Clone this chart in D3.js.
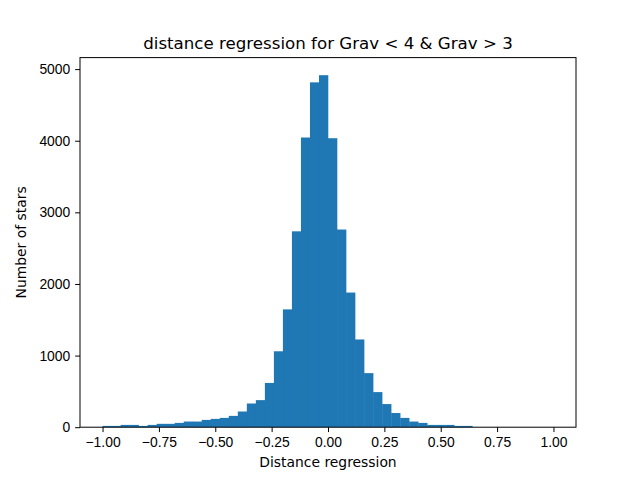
<!DOCTYPE html>
<html>
<head>
<meta charset="utf-8">
<script src="https://cdn.jsdelivr.net/npm/d3@7"></script>
<style>
  body { margin: 0; background: #fff; }
  svg { font-family: "DejaVu Sans", sans-serif; }
  .tick text { font-size: 13.89px; fill: #000; }
  .tick line { stroke: #000; stroke-width: 1; }
</style>
</head>
<body>
<script>
// histogram bin edges (50 bins of width 0.04)
var BIN_EDGES = [
  -1.00, -0.96, -0.92, -0.88, -0.84, -0.80, -0.76, -0.72, -0.68, -0.64,
  -0.60, -0.56, -0.52, -0.48, -0.44, -0.40, -0.36, -0.32, -0.28, -0.24,
  -0.20, -0.16, -0.12, -0.08, -0.04, 0.00, 0.04, 0.08, 0.12, 0.16,
  0.20, 0.24, 0.28, 0.32, 0.36, 0.40, 0.44, 0.48, 0.52, 0.56,
  0.60, 0.64, 0.68, 0.72, 0.76, 0.80, 0.84, 0.88, 0.92, 0.96, 1.00
];

// number of stars per bin
var COUNTS = [
  18, 18, 32, 32, 18, 32, 47, 47, 60, 79,
  79, 102, 116, 130, 158, 219, 331, 378, 618, 1060,
  1645, 2735, 4045, 4815, 4915, 4035, 2760, 1880, 1225, 755,
  490, 323, 198, 130, 79, 60, 32, 32, 32, 18,
  18, 0, 0, 0, 0, 0, 0, 0, 0, 0
];

var X_TICKS = [-1.00, -0.75, -0.50, -0.25, 0.00, 0.25, 0.50, 0.75, 1.00];
var Y_TICKS = [0, 1000, 2000, 3000, 4000, 5000];

var TITLE = 'distance regression for Grav < 4 & Grav > 3';
var X_LABEL = 'Distance regression';
var Y_LABEL = 'Number of stars';

var WIDTH = 640, HEIGHT = 480;
var margin = {left: 80, right: 64, top: 57.6, bottom: 52.8};
var plotW = WIDTH - margin.left - margin.right;
var plotH = HEIGHT - margin.top - margin.bottom;
var TICK_LEN = 4.86;

var bins = COUNTS.map(function(c, i) {
  return {x0: BIN_EDGES[i], x1: BIN_EDGES[i + 1], count: c};
});

var xPad = (BIN_EDGES[BIN_EDGES.length - 1] - BIN_EDGES[0]) * 0.05;
var x = d3.scaleLinear()
    .domain([BIN_EDGES[0] - xPad, BIN_EDGES[BIN_EDGES.length - 1] + xPad])
    .range([0, plotW]);

var y = d3.scaleLinear()
    .domain([0, d3.max(COUNTS) * 1.05])
    .range([plotH, 0]);

var svg = d3.select('body').append('svg')
    .attr('width', WIDTH)
    .attr('height', HEIGHT);

var g = svg.append('g')
    .attr('transform', 'translate(' + margin.left + ',' + margin.top + ')');

g.selectAll('.bar')
    .data(bins)
    .enter().append('rect')
    .classed('bar', true)
    .attr('x', function(d) { return x(d.x0); })
    .attr('width', function(d) { return x(d.x1) - x(d.x0) + 0.3; })
    .attr('y', function(d) { return y(d.count); })
    .attr('height', function(d) { return plotH - y(d.count); })
    .attr('fill', '#1f77b4');

var xAxis = g.append('g')
    .attr('transform', 'translate(0,' + plotH + ')')
    .call(d3.axisBottom(x)
        .tickValues(X_TICKS)
        .tickFormat(function(d) { return d3.format('.2f')(d).replace('-', '\u2212'); })
        .tickSize(TICK_LEN)
        .tickPadding(TICK_LEN)
        .tickSizeOuter(0));
xAxis.select('.domain').remove();

var yAxis = g.append('g')
    .call(d3.axisLeft(y)
        .tickValues(Y_TICKS)
        .tickFormat(d3.format('d'))
        .tickSize(TICK_LEN)
        .tickPadding(TICK_LEN)
        .tickSizeOuter(0));
yAxis.select('.domain').remove();

// axes frame
g.append('rect')
    .attr('width', plotW)
    .attr('height', plotH)
    .attr('fill', 'none')
    .attr('stroke', '#000')
    .attr('stroke-width', 1);

svg.append('text')
    .attr('x', margin.left + plotW / 2)
    .attr('y', margin.top - 8.3)
    .attr('text-anchor', 'middle')
    .attr('font-size', '16.67px')
    .text(TITLE);

svg.append('text')
    .attr('x', margin.left + plotW / 2)
    .attr('y', 467)
    .attr('text-anchor', 'middle')
    .attr('font-size', '13.89px')
    .text(X_LABEL);

svg.append('text')
    .attr('transform', 'translate(26,' + (margin.top + plotH / 2) + ') rotate(-90)')
    .attr('text-anchor', 'middle')
    .attr('font-size', '13.89px')
    .text(Y_LABEL);
</script>
</body>
</html>
